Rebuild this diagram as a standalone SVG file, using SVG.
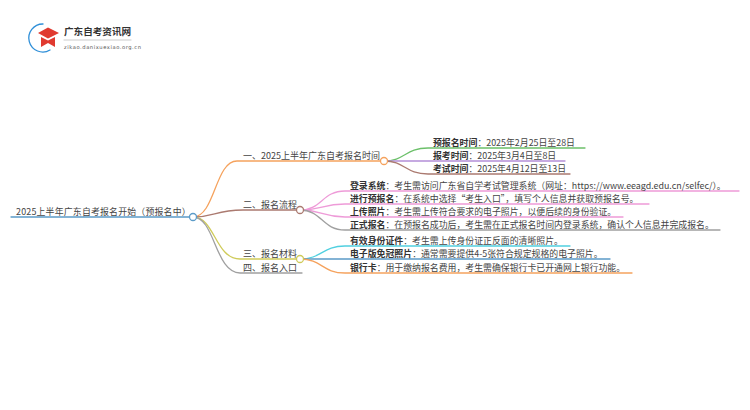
<svg xmlns="http://www.w3.org/2000/svg" width="750" height="410" viewBox="0 0 750 410">
<style>
text{font-family:"Noto Sans CJK SC","Liberation Sans",sans-serif;font-size:9px;fill:#444}
.b{font-weight:700;fill:#333}
.k{font-size:8.900px}
path{fill:none;stroke-width:1.3;stroke-linecap:round}
circle{fill:#fff;stroke-width:1.3}
</style>
<rect width="750" height="410" fill="#fff"/>
<g id="logo">
<path d="M43 24A14 14 0 1 0 50 50" stroke="#2f8fd8" stroke-width="3.5"/>
<path d="M38 33L48 27.500L59 33L48 38.500Z" style="fill:#e03a30;stroke:none"/>
<path d="M41 37L48 40.500L55 37V47L48 43L41 47Z" style="fill:#e03a30;stroke:none"/>
<text x="64" y="35" style="font-size:9.600px;font-weight:700;fill:#333">广东自考资讯网</text>
<path d="M64 40H131" stroke="#ddd" stroke-width="0.6"/>
<text x="64" y="48.500" style="font-size:5.200px;letter-spacing:.55px;fill:#555;font-family:'DejaVu Sans',sans-serif">zikao.danixuexiao.org.cn</text>
</g>
<g id="connectors">
<path d="M11 217H193" stroke="#5b9bc8" stroke-width="1.600"/>
<path d="M193 217C215 217 215 161 237 161H384" stroke="#f5a25d"/>
<path d="M193 217C215 217 215 210 243 210H300" stroke="#ab7a70"/>
<path d="M193 217C215 217 215 259 240 259H300" stroke="#cfcb5a"/>
<path d="M193 217C215 217 215 273 240 273H302" stroke="#a0a0a0"/>
<path d="M384 161C405 161 405 148 428 148H585" stroke="#6cc06a"/>
<path d="M384 161H565" stroke="#b48fd8"/>
<path d="M384 161C405 161 405 174 428 174H570" stroke="#ab7a70"/>
<path d="M300 210C322 210 322 191 345 191H739" stroke="#ee9bd8"/>
<path d="M300 210C322 210 322 204 345 204H649" stroke="#ee9bd8"/>
<path d="M300 210C322 210 322 217 345 217H623" stroke="#ee9bd8"/>
<path d="M300 210C322 210 322 230 345 230H720" stroke="#a0a0a0"/>
<path d="M300 259C322 259 322 246 345 246H570" stroke="#50d0e0"/>
<path d="M300 259H610" stroke="#5b9bc8"/>
<path d="M300 259C322 259 322 273 345 273H632" stroke="#f5a25d"/>
</g>
<g id="root"><text x="16" y="215" style="font-size:8.900px;letter-spacing:.2px">2025上半年广东自考报名开始（预报名中）</text><circle cx="193" cy="217" r="3.500" stroke="#5b9bc8"/></g>
<g id="n1"><text x="243" y="159">一、2025上半年广东自考报名时间</text><circle cx="384" cy="161" r="3.500" stroke="#f5a25d"/></g>
<g id="n2"><text x="243" y="208">二、报名流程</text><circle cx="300" cy="210" r="3.500" stroke="#ab7a70"/></g>
<g id="n3"><text x="243" y="257">三、报名材料</text><circle cx="300" cy="259" r="3.500" stroke="#cfcb5a"/></g>
<g id="n4"><text x="243" y="271">四、报名入口</text></g>
<g id="l11"><text x="433" y="146" class="k"><tspan class="b">预报名时间</tspan>：2025年2月25日至28日</text></g>
<g id="l12"><text x="433" y="159" class="k"><tspan class="b">报考时间</tspan>：2025年3月4日至8日</text></g>
<g id="l13"><text x="433" y="172" class="k"><tspan class="b">考试时间</tspan>：2025年4月12日至13日</text></g>
<g id="l21"><text x="350" y="189" class="k"><tspan class="b">登录系统</tspan>：考生需访问广东省自学考试管理系统（网址：https://www.eeagd.edu.cn/selfec/）。</text></g>
<g id="l22"><text x="350" y="202" class="k"><tspan class="b">进行预报名</tspan>：在系统中选择“考生入口”，填写个人信息并获取预报名号。</text></g>
<g id="l23"><text x="350" y="215" class="k"><tspan class="b">上传照片</tspan>：考生需上传符合要求的电子照片，以便后续的身份验证。</text></g>
<g id="l24"><text x="350" y="228" class="k"><tspan class="b">正式报名</tspan>：在预报名成功后，考生需在正式报名时间内登录系统，确认个人信息并完成报名。</text></g>
<g id="l31"><text x="350" y="244" class="k"><tspan class="b">有效身份证件</tspan>：考生需上传身份证正反面的清晰照片。</text></g>
<g id="l32"><text x="350" y="257" class="k"><tspan class="b">电子版免冠照片</tspan>：通常需要提供4-5张符合规定规格的电子照片。</text></g>
<g id="l33"><text x="350" y="271" class="k"><tspan class="b">银行卡</tspan>：用于缴纳报名费用，考生需确保银行卡已开通网上银行功能。</text></g>
</svg>
